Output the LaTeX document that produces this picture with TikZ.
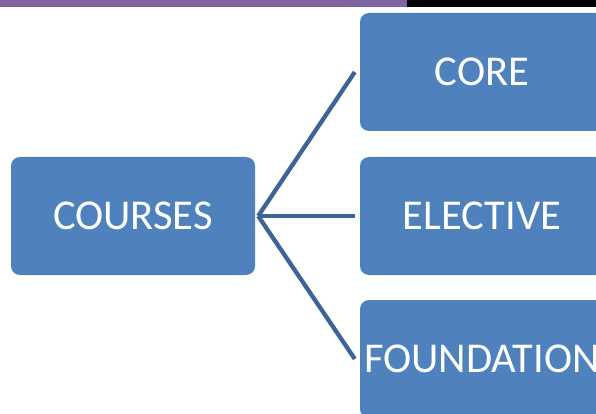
\documentclass[tikz,border=0pt]{standalone}
\usepackage{fontspec}
\setmainfont{Carlito}
\definecolor{boxblue}{HTML}{4F81BD}
\definecolor{linkblue}{HTML}{3E6495}
\definecolor{barpurple}{HTML}{8064A2}
\begin{document}
\begin{tikzpicture}[x=1pt,y=-1pt,
  box/.style={fill=boxblue, rounded corners=9pt, minimum width=244pt, minimum height=118pt, inner sep=0pt, text=white, font=\fontsize{42.5}{42.5}\selectfont},
  link/.style={draw=linkblue, line width=4.3pt}]
\useasboundingbox (0,0) rectangle (596,414);
\clip (0,0) rectangle (596,414);
\fill[barpurple] (0,0) rectangle (407,7);
\fill[black] (407,0) rectangle (596,7);
\node[box] (courses) at (133,216) {COURSES};
\node[box] (core) at (482,72) {CORE};
\node[box] (elective) at (482,216) {ELECTIVE};
\node[box] (foundation) at (482,359) {FOUNDATION};
\coordinate (hub) at ([xshift=3pt]courses.east);
\draw[link] (hub) -- ([xshift=-5pt]core.west);
\draw[link] (hub) -- ([xshift=-5pt]elective.west);
\draw[link] (hub) -- ([xshift=-5pt]foundation.west);
\end{tikzpicture}
\end{document}
